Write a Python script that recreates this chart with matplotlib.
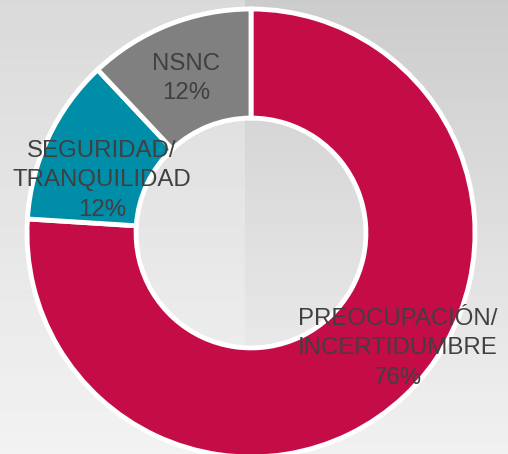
import numpy as np
import matplotlib.pyplot as plt

# datos del grafico
etiquetas = ["PREOCUPACIÓN/\nINCERTIDUMBRE", "SEGURIDAD/\nTRANQUILIDAD", "NSNC"]
valores = [76, 12, 12]
colores = ["#C40C46", "#008DA8", "#808080"]
# posicion de cada etiqueta (x, y) en unidades del radio
pos_etiquetas = [(0.655, -0.515), (-0.665, 0.235), (-0.29, 0.69)]

fig = plt.figure(figsize=(5.08, 4.54), dpi=100)

# fondo con degradado gris
fondo = fig.add_axes([0, 0, 1, 1])
fondo.axis('off')
y = np.linspace(0, 1, 200)[:, None]
izq = 0.855 + (0.950 - 0.855) * y
der = 0.800 + (0.945 - 0.800) * y
grad = np.hstack([np.repeat(izq, 245, axis=1), np.repeat(der, 263, axis=1)])
fondo.imshow(grad, cmap='gray', vmin=0, vmax=1, aspect='auto', extent=(0, 1, 0, 1))
fondo.set_xlim(0, 1)
fondo.set_ylim(0, 1)

ax = fig.add_axes([0, 0, 1, 1])
ax.axis('off')
ax.set_facecolor('none')

ax.pie(valores, colors=colores, startangle=90, counterclock=False,
       radius=1.0,
       wedgeprops=dict(width=0.487, edgecolor='white', linewidth=3.5))

for et, v, (x, y) in zip(etiquetas, valores, pos_etiquetas):
    ax.text(x, y, et + "\n" + str(v) + "%", ha='center', va='center',
            fontsize=17.3, color='#404040', family='Liberation Sans',
            linespacing=1.42)

ax.set_xlim(-251 / 224, (508 - 251) / 224)
ax.set_ylim((233 - 454) / 224, 233 / 224)
ax.set_aspect('equal')

plt.savefig("out.png", dpi=100)
